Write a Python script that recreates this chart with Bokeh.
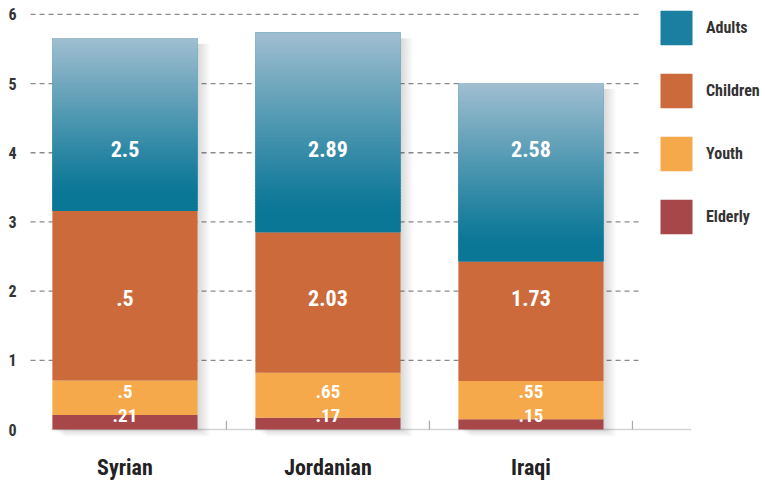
from bokeh.plotting import figure
from bokeh.models import Range1d, FixedTicker, Legend, LegendItem, ColumnDataSource
from bokeh.core.properties import value
from bokeh.embed import file_html
from bokeh.resources import INLINE

# ---- data ----
categories = ["Syrian", "Jordanian", "Iraqi"]
elderly = [0.21, 0.17, 0.15]
youth = [0.50, 0.65, 0.55]
children = [2.45, 2.03, 1.73]
adults = [2.50, 2.89, 2.58]
elderly_labels = [".21", ".17", ".15"]
youth_labels = [".5", ".65", ".55"]
children_labels = [".5", "2.03", "1.73"]
adults_labels = ["2.5", "2.89", "2.58"]
y_ticks = [0, 1, 2, 3, 4, 5, 6]

# ---- style ----
FONT = "Liberation Sans Narrow, Roboto Condensed, DejaVu Sans Condensed, sans-serif"
C_ADULT_TOP = (160, 190, 208)
C_ADULT_BOT = (11, 119, 151)
C_CHILD = "#cc6a3b"
C_YOUTH = "#f5a94b"
C_ELDER = "#a8474a"
BAR_W = 0.715
PX_X = 1 / 203.0
PX_Y = 1 / 69.83

W, H = 765, 482
p = figure(width=W, height=H, output_backend="svg", toolbar_location=None,
           x_range=Range1d(-0.485, -0.485 + 739 * PX_X),
           y_range=Range1d(-7 * PX_Y, 6 + 14 * PX_Y),
           min_border_left=26, min_border_right=0, min_border_top=0, min_border_bottom=42)
p.outline_line_color = None
p.background_fill_color = "white"
p.border_fill_color = "white"
p.xgrid.visible = False
p.ygrid.visible = False

x = list(range(len(categories)))

# dashed gridlines
gx0, gx1 = -0.465, 2.54
p.segment(x0=[gx0] * 6, x1=[gx1] * 6, y0=y_ticks[1:], y1=y_ticks[1:],
          line_color="#8a8a8a", line_width=1.3, line_dash="5 4")

# baseline and separator ticks
p.segment(x0=[-0.362], x1=[2.79], y0=[0], y1=[0], line_color="#d4d4d4", line_width=1.5)
p.segment(x0=[0.5, 1.5, 2.5], x1=[0.5, 1.5, 2.5], y0=[0, 0, 0], y1=[9 * PX_Y] * 3,
          line_color="#aaaaaa", line_width=1.2)

totals = [e + yo + c + a for e, yo, c, a in zip(elderly, youth, children, adults)]

# soft shadows
for s in [2, 4, 6, 8, 10, 12]:
    p.quad(left=[xi - BAR_W / 2 + s * PX_X for xi in x],
           right=[xi + BAR_W / 2 + s * PX_X for xi in x],
           bottom=[-s * 0.6 * PX_Y for _ in x],
           top=[t - 6 * PX_Y for t in totals],
           fill_color="#000000", fill_alpha=0.025, line_color=None)

src = ColumnDataSource(dict(x=x, Elderly=elderly, Youth=youth, Children=children, Adults=adults))
rs = p.vbar_stack(["Elderly", "Youth", "Children", "Adults"], x="x", width=BAR_W, source=src,
                  color=[C_ELDER, C_YOUTH, C_CHILD, "#1a7fa0"], line_color=None)

# gradient on adults segment (slices overlap downward to hide seams)
N = 60
gl, gr, gb, gt, gc = [], [], [], [], []
for xi, e, yo, c, a in zip(x, elderly, youth, children, adults):
    b = e + yo + c
    for k in range(N):
        f = (k + 0.5) / N
        t = max(0.0, (f - 0.12) / 0.88)
        col = tuple(int(round(C_ADULT_BOT[i] + (C_ADULT_TOP[i] - C_ADULT_BOT[i]) * t ** 1.1)) for i in range(3))
        gl.append(xi - BAR_W / 2)
        gr.append(xi + BAR_W / 2)
        gb.append(b + a * k / N - (0.02 if k > 0 else 0.0))
        gt.append(b + a * (k + 1) / N)
        gc.append("#%02x%02x%02x" % col)
p.quad(left=gl, right=gr, bottom=gb, top=gt, fill_color=gc, line_color=None)

# value labels
def put(labels, yv, size):
    p.text(x=x, y=[yv] * len(x), text=labels, text_color="white",
           text_font=value(FONT), text_font_style="bold", text_font_size=size,
           text_align="center", text_baseline="middle")

put(adults_labels, 4.05, "22px")
put(children_labels, 1.9, "22px")
put(youth_labels, 0.55, "19px")
put(elderly_labels, 0.2, "19px")

# axes
p.yaxis.ticker = FixedTicker(ticks=y_ticks)
p.yaxis.axis_line_color = None
p.yaxis.major_tick_line_color = None
p.yaxis.minor_tick_line_color = None
p.yaxis.major_label_standoff = 4
p.yaxis.major_label_text_font = FONT
p.yaxis.major_label_text_font_style = "bold"
p.yaxis.major_label_text_font_size = "16px"
p.yaxis.major_label_text_color = "#333333"

p.xaxis.ticker = FixedTicker(ticks=x)
p.xaxis.major_label_overrides = {i: c for i, c in zip(x, categories)}
p.xaxis.axis_line_color = None
p.xaxis.major_tick_line_color = None
p.xaxis.minor_tick_line_color = None
p.xaxis.major_label_standoff = 12
p.xaxis.major_label_text_font = FONT
p.xaxis.major_label_text_font_style = "bold"
p.xaxis.major_label_text_font_size = "22px"
p.xaxis.major_label_text_color = "#222222"

# legend
names = ["Adults", "Children", "Youth", "Elderly"]
items = [LegendItem(label=n, renderers=[r]) for n, r in zip(names, [rs[3], rs[2], rs[1], rs[0]])]
leg = Legend(items=items, location=(630, 198), orientation="vertical",
             glyph_width=40, glyph_height=43, spacing=20, padding=0, margin=0,
             label_standoff=10, label_text_font=FONT, label_text_font_style="bold",
             label_text_font_size="16px", label_text_color="#333333",
             background_fill_alpha=0, border_line_alpha=0)
p.add_layout(leg)

open("out.html", "w").write(file_html(p, INLINE))
